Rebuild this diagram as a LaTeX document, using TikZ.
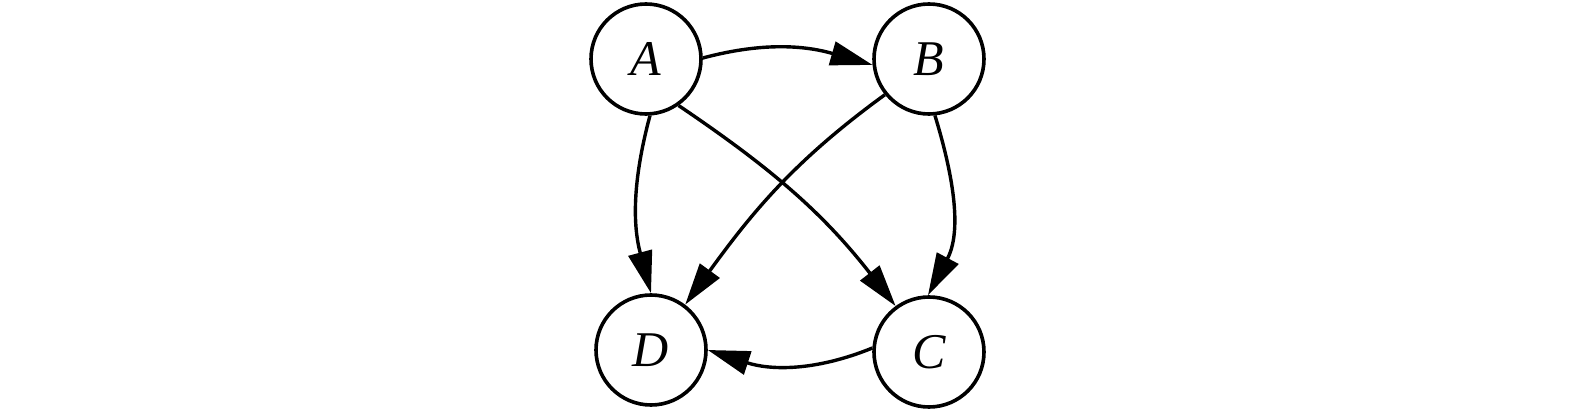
\documentclass[tikz,border=0pt]{standalone}
\usepackage{fontspec}
\setmainfont{Liberation Serif}
\usetikzlibrary{arrows.meta}

\tikzset{
  etat/.style={circle, draw, line width=3.6pt, minimum size=110pt, inner sep=0pt,
    font=\fontsize{50}{60}\selectfont\itshape},
  fleche/.style={line width=3.4pt, -{Triangle[length=42pt, width=24pt]}}
}

\begin{document}
\begin{tikzpicture}[x=1pt, y=1pt]
  \useasboundingbox (0,0) rectangle (1575,413);
  % les quatre sommets
  \node[etat] (A) at (646,354) {A};
  \node[etat] (B) at (929,354) {B};
  \node[etat] (C) at (929,61) {C};
  \node[etat] (D) at (651,63) {D};
  % les arcs
  \draw[fleche] (A.1) to[out=15, in=164] (B.186);
  \draw[fleche] (A.-86) to[out=-105, in=105] (D.90);
  \draw[fleche] (A.-55) to[out=-34, in=128] (C.126);
  \draw[fleche] (B.219) to[out=216, in=54] (D.53);
  \draw[fleche] (B.-84) to[out=-73, in=62] (C.91);
  \draw[fleche] (C.176) to[out=202, in=-18] (D.0);
\end{tikzpicture}
\end{document}
